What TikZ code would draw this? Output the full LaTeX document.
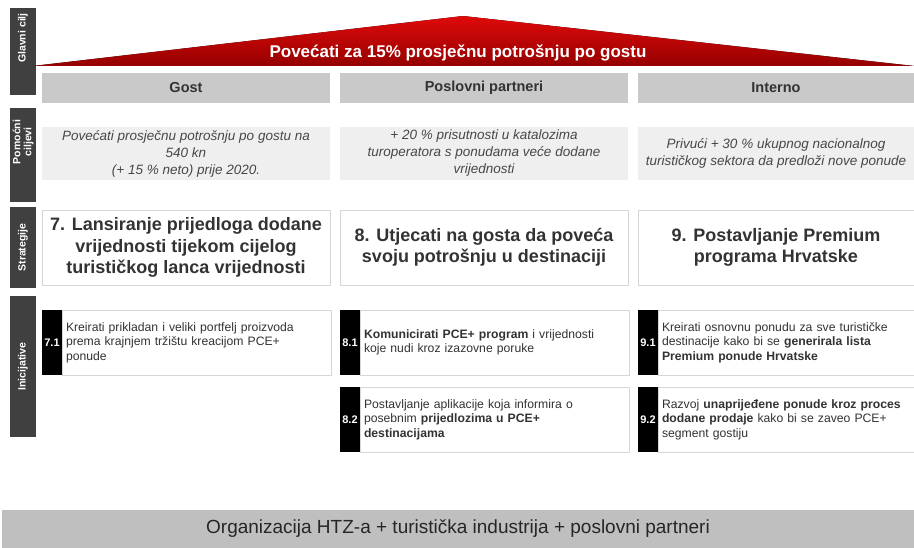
\documentclass[tikz,border=0pt]{standalone}
\usepackage{fontspec}
\setmainfont{Liberation Sans}
\usetikzlibrary{positioning}
\definecolor{bargray}{HTML}{404040}
\definecolor{headgray}{HTML}{C9C9C9}
\definecolor{aimgray}{HTML}{EFEFEF}
\definecolor{linegray}{HTML}{D6D6D6}
\definecolor{basegray}{HTML}{BFBFBF}
\definecolor{txtgray}{HTML}{333333}
\definecolor{goalred}{HTML}{E00A0A}
\definecolor{goaldark}{HTML}{950000}

\begin{document}
\begin{tikzpicture}[x=1pt, y=-1pt, node distance=10pt,
  every node/.style={outer sep=0pt},
  bar/.style={fill=bargray, minimum width=26pt, minimum height=#1, inner sep=0pt},
  bartext/.style={text=white, rotate=90, inner sep=0pt, align=center,
    font=\bfseries\fontsize{10.5}{11}\selectfont},
  head/.style={fill=headgray, text=txtgray, minimum width=#1, minimum height=30pt,
    font=\bfseries\fontsize{14.5}{16}\selectfont},
  head/.default={288pt},
  aim/.style={fill=aimgray, text=txtgray!90!white, minimum width=#1, minimum height=53pt,
    align=center, inner sep=0pt, font=\itshape\fontsize{13.5}{17}\selectfont},
  aim/.default={288pt},
  strat/.style={draw=linegray, fill=white, text=txtgray, minimum width=#1, minimum height=75pt,
    align=center, inner sep=0pt, font=\bfseries\fontsize{18}{21.5}\selectfont},
  strat/.default={288pt},
  tab/.style={fill=black, text=white, minimum width=20pt, minimum height=65pt, inner sep=0pt,
    font=\bfseries\fontsize{11}{12}\selectfont},
  init/.style={draw=linegray, fill=white, text=txtgray, text width=#1, minimum height=65pt,
    inner xsep=4pt, align=left, font=\fontsize{12.2}{14.5}\selectfont},
  init/.default={261pt}]
\useasboundingbox (0,0) rectangle (914,548);

% left labels
\node[bar=87pt] (lglavni) at (23,51.5) {};
\node[bartext] (tglavni) at (23,38) {Glavni cilj};
\node[bar=94pt] (lpomocni) at (23,155) {};
\node[bartext] (tpomocni) at (23,142) {Pomoćni\\ciljevi};
\node[bar=81pt] (lstrat) at (23,247.5) {};
\node[bartext] (tstrat) at (lstrat) {Strategije};
\node[bar=141pt] (linic) at (23,366.5) {};
\node[bartext] (tinic) at (linic) {Inicijative};

% main goal
\fill[top color=goalred, bottom color=goaldark] (33,66) -- (463,16) -- (914,66) -- cycle;
\node[text=white, font=\bfseries\fontsize{17}{19}\selectfont] (goal) at (458,53)
  {Povećati za 15\% prosječnu potrošnju po gostu};

% columns
\node[head, anchor=north west] (gost) at (42,73) {Gost};
\node[head, right=of gost] (partneri) {Poslovni partneri};
\node[head=276pt, right=of partneri] (interno) {Interno};

\node[aim, anchor=north west] (aim1) at (42,127)
  {Povećati prosječnu potrošnju po gostu na\\540 kn\\(+ 15 \% neto) prije 2020.};
\node[aim, right=of aim1] (aim2)
  {+ 20 \% prisutnosti u katalozima\\turoperatora s ponudama veće dodane\\vrijednosti};
\node[aim=276pt, right=of aim2] (aim3)
  {Privući + 30 \% ukupnog nacionalnog\\turističkog sektora da predloži nove ponude};

\node[strat, anchor=north west] (s7) at (42,210)
  {7. Lansiranje prijedloga dodane\\vrijednosti tijekom cijelog\\turističkog lanca vrijednosti};
\node[strat, right=of s7] (s8) {8. Utjecati na gosta da poveća\\svoju potrošnju u destinaciji};
\node[strat=276pt, right=of s8] (s9) {9. Postavljanje Premium\\programa Hrvatske};

% initiatives
\node[tab, anchor=north west] (t71) at (42,310) {7.1};
\node[init, right=0pt of t71] (i71)
  {Kreirati prikladan i veliki portfelj proizvoda\\prema krajnjem tržištu kreacijom PCE+\\ponude};
\node[tab, anchor=north west] (t81) at (340,310) {8.1};
\node[init, right=0pt of t81] (i81)
  {\textbf{Komunicirati PCE+ program} i vrijednosti\\koje nudi kroz izazovne poruke};
\node[tab, anchor=north west] (t82) at (340,387) {8.2};
\node[init, right=0pt of t82] (i82)
  {Postavljanje aplikacije koja informira o\\posebnim \textbf{prijedlozima u PCE+}\\\textbf{destinacijama}};
\node[tab, anchor=north west] (t91) at (638,310) {9.1};
\node[init=248pt, right=0pt of t91] (i91)
  {Kreirati osnovnu ponudu za sve turističke\\destinacije kako bi se \textbf{generirala lista}\\\textbf{Premium ponude Hrvatske}};
\node[tab, anchor=north west] (t92) at (638,387) {9.2};
\node[init=248pt, right=0pt of t92] (i92)
  {Razvoj \textbf{unaprijeđene ponude kroz proces}\\\textbf{dodane prodaje} kako bi se zaveo PCE+\\segment gostiju};

% base
\node[fill=basegray, text=black!85, minimum width=912pt, minimum height=38pt,
  anchor=north west, font=\fontsize{19}{21}\selectfont] (base) at (2,510)
  {Organizacija HTZ-a + turistička industrija + poslovni partneri};
\end{tikzpicture}
\end{document}
